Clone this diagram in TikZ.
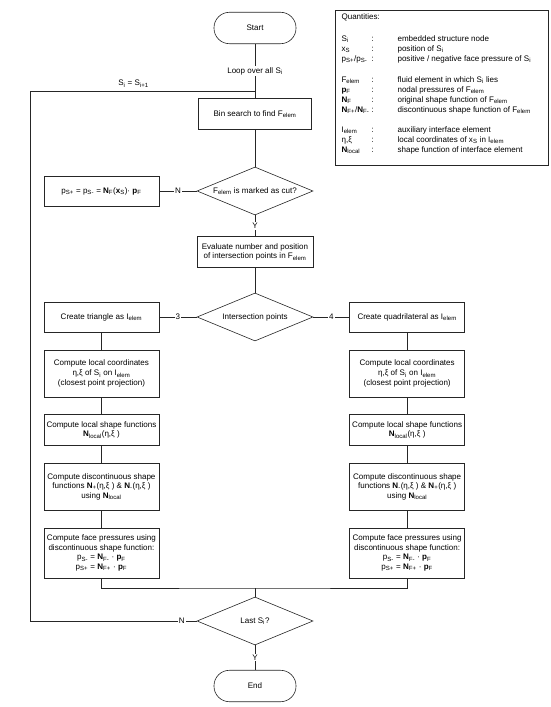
\documentclass[tikz,border=0pt]{standalone}
\usepackage{fontspec}
\setmainfont{Liberation Sans}
\usepackage{tikz}
\usetikzlibrary{shapes.geometric}
\newcommand{\idx}[1]{\textsubscript{#1}}

\begin{document}
\begin{tikzpicture}[
  every node/.style={font=\fontsize{8}{9.5}\selectfont},
  flow/.style={draw=black!85, line width=0.6pt},
  procbox/.style={flow, rectangle, align=center, inner sep=1pt, minimum width=4.025cm},
  termbox/.style={flow, rectangle, rounded corners=0.54cm, minimum width=2.87cm, minimum height=1.1cm},
  decbox/.style={flow, diamond, shape aspect=2.4, inner sep=0pt, minimum width=4.06cm, minimum height=1.68cm},
  lab/.style={fill=white, inner sep=1pt}]
\useasboundingbox (0cm,0cm) rectangle (19.25cm,-24.745cm);

% main column
\node[termbox] (start) at (8.925cm,-0.98cm) {Start};
\node[procbox, minimum width=3.95cm, minimum height=1.085cm] (bin) at (8.925cm,-3.99cm) {Bin search to find F\idx{elem}};
\node[decbox] (cut) at (8.925cm,-6.685cm) {F\idx{elem} is marked as cut?};
\node[procbox, minimum height=1.05cm] (pbox) at (3.55cm,-6.685cm) {p\idx{S+} = p\idx{S-} = \textbf{N}\idx{F}(\textbf{x}\idx{S})· \textbf{p}\idx{F}};
\node[procbox, minimum width=4.06cm, minimum height=1.085cm] (eval) at (8.925cm,-8.82cm) {Evaluate number and position\\of intersection points in F\idx{elem}};
\node[decbox] (inter) at (8.925cm,-11.095cm) {Intersection points};
\node[procbox, minimum height=1.05cm] (tri) at (3.55cm,-11.095cm) {Create triangle as I\idx{elem}};
\node[procbox, minimum height=1.05cm] (quad) at (14.25cm,-11.095cm) {Create quadrilateral as I\idx{elem}};

% left column
\node[procbox, minimum height=1.645cm] (lcL) at (3.55cm,-13.07cm) {Compute local coordinates\\η,ξ of S\idx{i} on I\idx{elem}\\(closest point projection)};
\node[procbox, minimum height=1.085cm] (lsL) at (3.55cm,-15.05cm) {Compute local shape functions\\\textbf{N}\idx{local}(η,ξ )};
\node[procbox, minimum height=1.645cm] (dsL) at (3.55cm,-17.03cm) {Compute discontinuous shape\\functions \textbf{N}\idx{+}(η,ξ ) \& \textbf{N}\idx{-}(η,ξ )\\using \textbf{N}\idx{local}};
\node[procbox, minimum height=1.75cm] (fpL) at (3.55cm,-19.355cm) {Compute face pressures using\\discontinuous shape function:\\p\idx{S-} = \textbf{N}\idx{F-} · \textbf{p}\idx{F}\\p\idx{S+} = \textbf{N}\idx{F+} · \textbf{p}\idx{F}};

% right column
\node[procbox, minimum height=1.645cm] (lcR) at (14.25cm,-13.07cm) {Compute local coordinates\\η,ξ of S\idx{i} on I\idx{elem}\\(closest point projection)};
\node[procbox, minimum height=1.085cm] (lsR) at (14.25cm,-15.05cm) {Compute local shape functions\\\textbf{N}\idx{local}(η,ξ )};
\node[procbox, minimum height=1.645cm] (dsR) at (14.25cm,-17.03cm) {Compute discontinuous shape\\functions \textbf{N}\idx{-}(η,ξ ) \& \textbf{N}\idx{+}(η,ξ )\\using \textbf{N}\idx{local}};
\node[procbox, minimum height=1.75cm] (fpR) at (14.25cm,-19.355cm) {Compute face pressures using\\discontinuous shape function:\\p\idx{S-} = \textbf{N}\idx{F-} · \textbf{p}\idx{F}\\p\idx{S+} = \textbf{N}\idx{F+} · \textbf{p}\idx{F}};

\node[decbox] (last) at (8.925cm,-21.735cm) {Last S\idx{i}?};
\node[termbox] (stop) at (8.925cm,-24.01cm) {End};

\coordinate (loopjoin) at (8.925cm,-3.185cm);
\coordinate (looptop) at (1.05cm,-3.185cm);
\coordinate (loopbot) at (1.05cm,-21.735cm);
\coordinate (merge) at (8.925cm,-20.58cm);

% connectors
\draw[flow] (start) -- node[lab] {Loop over all S\idx{i}} (bin);
\draw[flow] (bin) -- (cut);
\draw[flow] (cut) -- node[lab] {N} (pbox);
\draw[flow] (cut) -- node[lab] {Y} (eval);
\draw[flow] (eval) -- (inter);
\draw[flow] (inter) -- node[lab] {3} (tri);
\draw[flow] (inter) -- node[lab] {4} (quad);
\draw[flow] (tri) -- (lcL);
\draw[flow] (lcL) -- (lsL);
\draw[flow] (lsL) -- (dsL);
\draw[flow] (dsL) -- (fpL);
\draw[flow] (quad) -- (lcR);
\draw[flow] (lcR) -- (lsR);
\draw[flow] (lsR) -- (dsR);
\draw[flow] (dsR) -- (fpR);
\draw[flow] (fpL) |- (merge) -| (fpR);
\draw[flow] (merge) -- (last);
\draw[flow] (last) -- node[lab] {Y} (stop);
\draw[flow] (last) -- node[lab, pos=0.09] {N} (loopbot) -- (looptop) -- node[above, pos=0.46] {S\idx{i} = S\idx{i+1}} (loopjoin);

% quantities
\node[flow, rectangle, anchor=north west, minimum width=7.455cm, minimum height=5.425cm] (quant) at (11.725cm,-0.35cm) {};
\node[anchor=base west] (qhead) at (11.83cm,-0.70cm) {Quantities:};
\foreach \yy/\sym/\desc [count=\k] in {
  41/{S\idx{i}}/{embedded structure node},
  51/{x\idx{S}}/{position of S\idx{i}},
  61/{p\idx{S+}/p\idx{S-}}/{positive / negative face pressure of S\idx{i}},
  82/{F\idx{elem}}/{fluid element in which S\idx{i} lies},
  92/{\textbf{p}\idx{F}}/{nodal pressures of F\idx{elem}},
  102/{\textbf{N}\idx{F}}/{original shape function of F\idx{elem}},
  112/{\textbf{N}\idx{F+}/\textbf{N}\idx{F-}}/{discontinuous shape function of F\idx{elem}},
  132/{I\idx{elem}}/{auxiliary interface element},
  142/{η,ξ}/{local coordinates of x\idx{S} in I\idx{elem}},
  152/{\textbf{N}\idx{local}}/{shape function of interface element}} {
  \node[anchor=base west] (qsym\k) at (11.83cm,-\yy*0.035cm) {\sym};
  \node[anchor=base west] (qcol\k) at (12.88cm,-\yy*0.035cm) {:};
  \node[anchor=base west] (qdesc\k) at (13.79cm,-\yy*0.035cm) {\desc};
}
\end{tikzpicture}
\end{document}
